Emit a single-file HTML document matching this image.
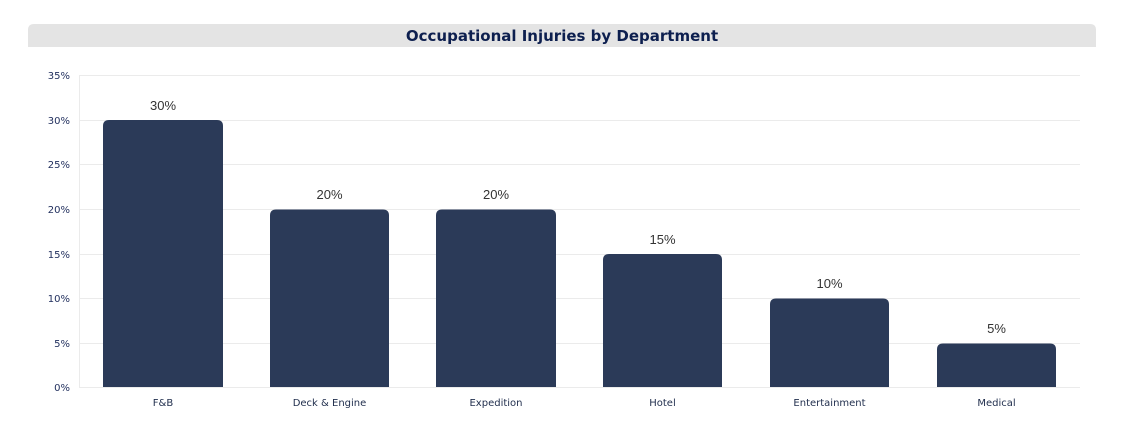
<!DOCTYPE html>
<html><head><meta charset="utf-8"><style>
body{margin:0;background:#fff;width:1127px;height:425px;overflow:hidden}
</style></head><body>
<svg width="1127" height="425" xmlns="http://www.w3.org/2000/svg" font-family="Liberation Sans, sans-serif">
<path d="M28,47 V30 Q28,24 34,24 H1090 Q1096,24 1096,30 V47 Z" fill="#e4e4e4"/>
<text x="562" y="41" text-anchor="middle" font-size="15" font-weight="bold" fill="#0d1f4f" font-family="DejaVu Sans, sans-serif">Occupational Injuries by Department</text>
<g stroke="#ebebeb" stroke-width="1">
<line x1="79" x2="1080" y1="75.5" y2="75.5"/>
<line x1="79" x2="1080" y1="120.5" y2="120.5"/>
<line x1="79" x2="1080" y1="164.5" y2="164.5"/>
<line x1="79" x2="1080" y1="209.5" y2="209.5"/>
<line x1="79" x2="1080" y1="254.5" y2="254.5"/>
<line x1="79" x2="1080" y1="298.5" y2="298.5"/>
<line x1="79" x2="1080" y1="343.5" y2="343.5"/>
<line x1="79" x2="1080" y1="387.5" y2="387.5"/>
<line x1="79.5" x2="79.5" y1="75" y2="388"/>
</g>
<g font-size="10" fill="#1f2d5c" text-anchor="end" font-family="DejaVu Sans, sans-serif">
<text x="70" y="79">35%</text><text x="70" y="124">30%</text><text x="70" y="168">25%</text>
<text x="70" y="213">20%</text><text x="70" y="258">15%</text><text x="70" y="302">10%</text>
<text x="70" y="347">5%</text><text x="70" y="391">0%</text>
</g>
<g fill="#2b3a58">
<path d="M103,387 V126 Q103,120 109,120 H217 Q223,120 223,126 V387 Z"/>
<path d="M270,387 V215.5 Q270,209.5 276,209.5 H383 Q389,209.5 389,215.5 V387 Z"/>
<path d="M436,387 V215.5 Q436,209.5 442,209.5 H550 Q556,209.5 556,215.5 V387 Z"/>
<path d="M603,387 V260 Q603,254 609,254 H716 Q722,254 722,260 V387 Z"/>
<path d="M770,387 V304.5 Q770,298.5 776,298.5 H883 Q889,298.5 889,304.5 V387 Z"/>
<path d="M937,387 V349.5 Q937,343.5 943,343.5 H1050 Q1056,343.5 1056,349.5 V387 Z"/>
</g>
<g font-size="13" fill="#333" text-anchor="middle">
<text x="163" y="110">30%</text><text x="329.5" y="199">20%</text><text x="496" y="199">20%</text>
<text x="662.5" y="244">15%</text><text x="829.5" y="288">10%</text><text x="996.5" y="333">5%</text>
</g>
<g font-size="10" fill="#1f2d4c" text-anchor="middle" font-family="DejaVu Sans, sans-serif">
<text x="163" y="406">F&amp;B</text><text x="329.5" y="406">Deck &amp; Engine</text><text x="496" y="406">Expedition</text>
<text x="662.5" y="406">Hotel</text><text x="829.5" y="406">Entertainment</text><text x="996.5" y="406">Medical</text>
</g>
</svg>
</body></html>
